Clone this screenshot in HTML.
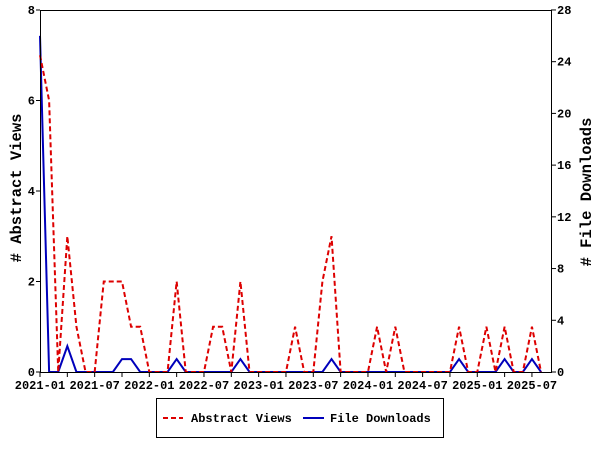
<!DOCTYPE html>
<html><head><meta charset="utf-8"><style>
html,body{margin:0;padding:0;background:#fff;width:600px;height:450px;overflow:hidden}
text{font-family:"Liberation Mono","DejaVu Sans Mono",monospace;font-weight:bold;font-size:12px;fill:#000}
</style></head><body>
<svg id="s" width="600" height="450" xmlns="http://www.w3.org/2000/svg">
<rect x="0" y="0" width="600" height="450" fill="#fff"/>
<g id="g"></g>
<rect x="40.5" y="10.5" width="511" height="362" fill="none" stroke="#000" stroke-width="1"/>
<text x="21" y="188" transform="rotate(-90 21 188)" text-anchor="middle" style="font-size:15.5px"># Abstract Views</text>
<text x="591" y="192" transform="rotate(-90 591 192)" text-anchor="middle" style="font-size:15.5px"># File Downloads</text>
<rect x="156.5" y="398.5" width="287" height="39" fill="#fff" stroke="#000"/>
<line x1="163" y1="418" x2="183" y2="418" stroke="#d00" stroke-width="2" stroke-dasharray="5,3"/>
<text x="191" y="422">Abstract Views</text>
<line x1="303" y1="418" x2="324" y2="418" stroke="#00b" stroke-width="2"/>
<text x="330" y="422">File Downloads</text>
</svg>
<script>
var g=document.getElementById('g'),h='';
function X(m){return 40+m*9.11}
function YL(v){return 372-v*45.25}
function YR(v){return 372-v*12.93}
for(var v=0;v<=8;v+=2){var y=YL(v);h+='<line x1="36" y1="'+y+'" x2="40" y2="'+y+'" stroke="#000"/><text x="35" y="'+(y+4)+'" text-anchor="end">'+v+'</text>';}
for(var v=0;v<=28;v+=4){var y=YR(v);h+='<line x1="551" y1="'+y+'" x2="556" y2="'+y+'" stroke="#000"/><text x="557" y="'+(y+4)+'">'+v+'</text>';}
var labs=['2021-01','2021-07','2022-01','2022-07','2023-01','2023-07','2024-01','2024-07','2025-01','2025-07'];
for(var m=0;m<=54;m+=3){var x=X(m);h+='<line x1="'+x+'" y1="372" x2="'+x+'" y2="377" stroke="#000"/>';if(m%6==0)h+='<text x="'+x+'" y="389" text-anchor="middle">'+labs[m/6]+'</text>';}
var red=[],blue=[];for(var i=0;i<56;i++){red.push(0);blue.push(0);}
var r={0:7,1:6,3:3,4:1,7:2,8:2,9:2,10:1,11:1,15:2,19:1,20:1,22:2,28:1,31:2,32:3,37:1,39:1,46:1,49:1,51:1,54:1};
for(var k in r)red[k]=r[k];
var b={0:26,3:2,9:1,10:1,15:1,22:1,32:1,46:1,51:1,54:1};
for(var k in b)blue[k]=b[k];
var pr=red.map(function(v,i){return X(i)+','+YL(v)}).join(' ');
var pb=blue.map(function(v,i){return X(i)+','+YR(v)}).join(' ');
h+='<polyline points="'+pb+'" fill="none" stroke="#00b" stroke-width="2"/>';
h+='<polyline points="'+pr+'" fill="none" stroke="#d00" stroke-width="2" stroke-dasharray="5,3"/>';
g.innerHTML=h;
</script>
</body></html>
